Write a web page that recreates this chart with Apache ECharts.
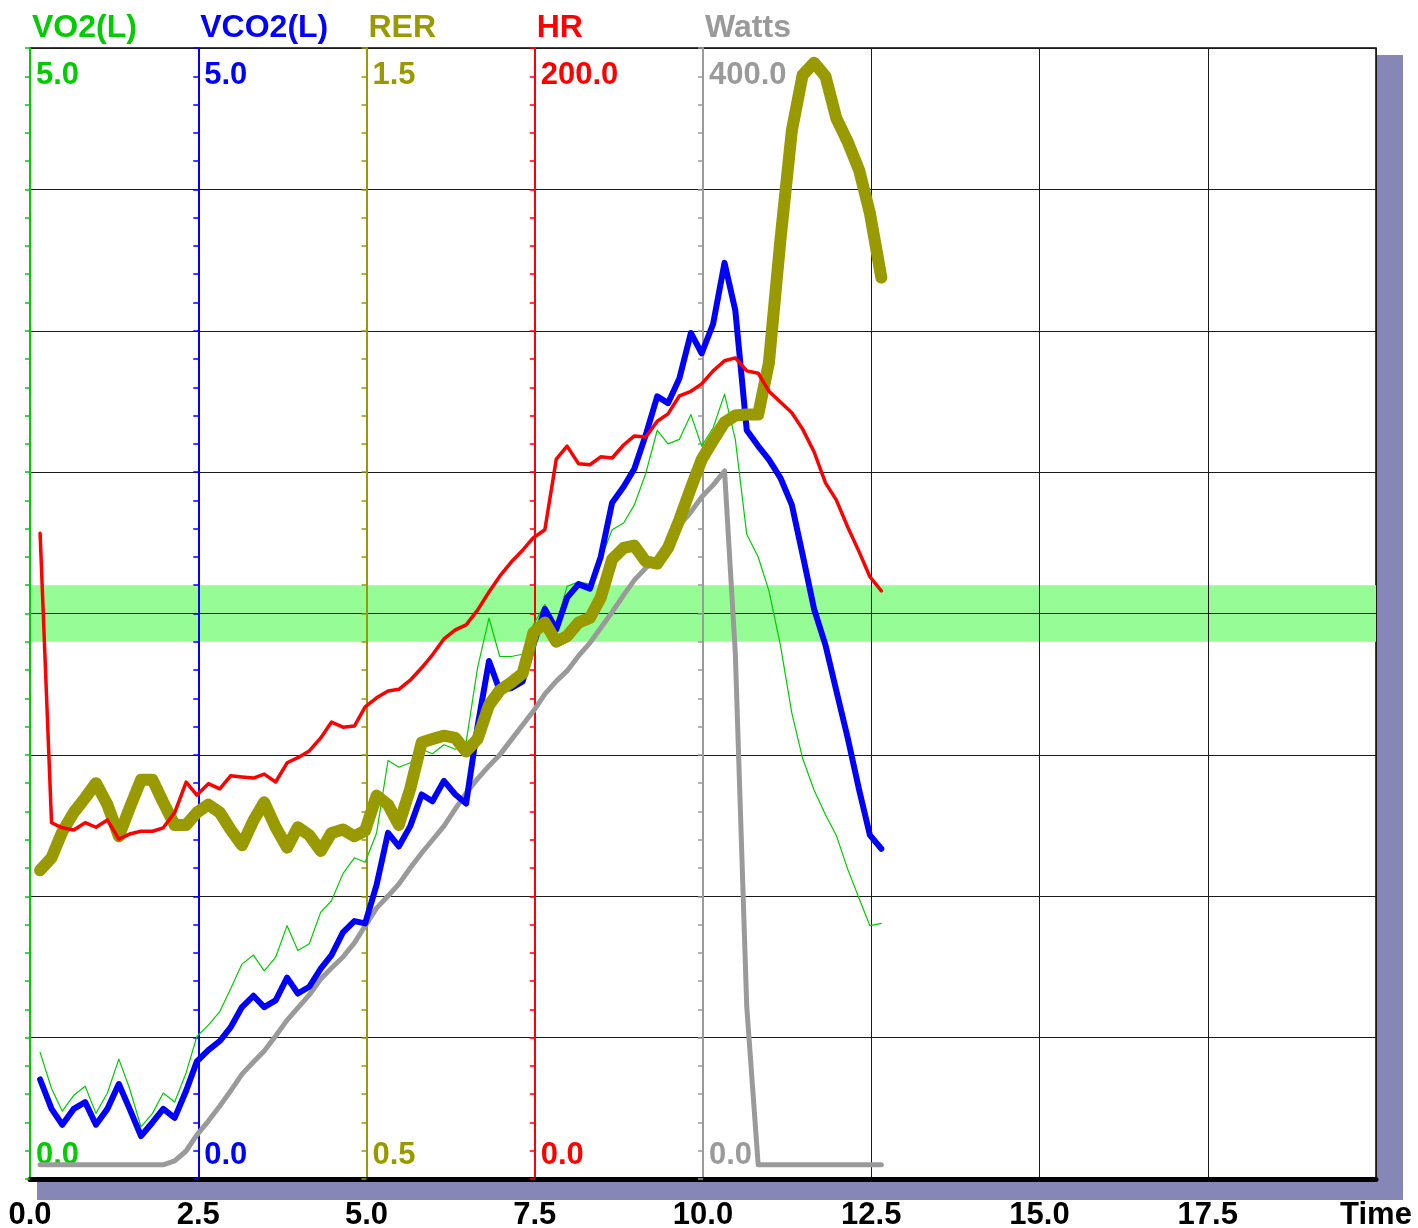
<!DOCTYPE html>
<html>
<head>
<meta charset="utf-8">
<script src="https://cdn.jsdelivr.net/npm/echarts/dist/echarts.min.js"></script>
<style>
html,body{margin:0;padding:0;background:#fff;overflow:hidden;}
#chart{width:1418px;height:1228px;}
</style>
</head>
<body>
<div id="chart"></div>
<script>
// ---- data (time in minutes) ----
const time = [0.15,0.32,0.48,0.65,0.82,0.98,1.15,1.32,1.48,1.65,1.82,1.98,2.15,2.32,2.48,2.65,2.82,2.98,3.15,3.32,
  3.48,3.65,3.82,3.98,4.15,4.32,4.48,4.65,4.82,4.98,5.15,5.32,5.48,5.65,5.82,5.98,6.15,6.32,6.48,6.65,
  6.82,6.98,7.15,7.32,7.48,7.65,7.82,7.98,8.15,8.32,8.48,8.65,8.82,8.98,9.15,9.32,9.48,9.65,9.82,9.98,
  10.15,10.32,10.48,10.65,10.82,10.98,11.15,11.32,11.48,11.65,11.82,11.98,12.15,12.32,12.48,12.65];
const vo2 = [0.56,0.40,0.30,0.37,0.41,0.29,0.38,0.53,0.40,0.23,0.29,0.38,0.34,0.47,0.63,0.68,0.74,0.84,0.95,0.99,
  0.92,0.98,1.12,1.01,1.04,1.18,1.23,1.35,1.42,1.40,1.53,1.85,1.82,1.84,1.90,1.88,1.92,1.90,1.93,2.26,
  2.48,2.31,2.31,2.32,2.45,2.54,2.45,2.62,2.64,2.63,2.74,2.87,2.90,2.98,3.12,3.31,3.25,3.27,3.38,3.24,
  3.32,3.47,3.27,2.85,2.75,2.60,2.36,2.06,1.86,1.72,1.61,1.52,1.37,1.24,1.12,1.13];
const vco2 = [0.44,0.31,0.24,0.31,0.34,0.24,0.31,0.42,0.31,0.19,0.25,0.31,0.27,0.39,0.52,0.57,0.61,0.67,0.76,0.81,
  0.76,0.79,0.89,0.82,0.85,0.93,0.99,1.09,1.14,1.13,1.30,1.53,1.47,1.56,1.70,1.67,1.76,1.70,1.66,2.00,
  2.29,2.16,2.17,2.20,2.36,2.52,2.43,2.57,2.63,2.61,2.75,2.99,3.06,3.14,3.29,3.46,3.43,3.54,3.74,3.65,
  3.78,4.05,3.84,3.31,3.24,3.18,3.10,2.98,2.76,2.52,2.36,2.16,1.95,1.72,1.52,1.46];
const rer = [0.773,0.784,0.807,0.824,0.837,0.850,0.831,0.803,0.828,0.853,0.853,0.833,0.813,0.813,0.824,0.831,0.824,0.809,0.795,0.817,
  0.833,0.811,0.793,0.811,0.804,0.790,0.806,0.809,0.803,0.808,0.839,0.831,0.813,0.845,0.886,0.889,0.892,0.890,0.878,0.889,
  0.919,0.932,0.939,0.947,0.983,0.992,0.975,0.980,0.992,0.996,1.014,1.048,1.058,1.060,1.046,1.044,1.058,1.083,1.111,1.136,
  1.153,1.169,1.175,1.176,1.176,1.222,1.330,1.427,1.476,1.487,1.475,1.438,1.417,1.392,1.354,1.297];
const hr = [114.2,63.0,62.1,61.7,63.0,62.2,63.5,60.1,61.0,61.5,61.5,62.1,64.8,70.2,67.9,69.9,69.0,71.3,71.1,70.9,
  71.6,70.2,73.6,74.5,75.7,78.0,80.8,79.9,80.1,83.5,85.1,86.3,86.6,88.2,90.4,92.7,95.5,97.1,98.0,100.6,
  103.8,106.6,109.1,111.2,113.4,114.8,127.3,129.6,126.5,126.3,127.7,127.5,129.8,131.4,131.2,134.0,135.3,138.5,139.3,140.6,
  142.9,144.7,145.2,142.9,142.5,139.3,137.4,135.5,132.6,128.6,123.1,120.1,115.3,110.9,106.5,104.0];
const watts = [5,5,5,5,5,5,5,5,5,5,5,5,6.4,9.9,15.6,20.5,25.8,31.1,37.1,41.4,
  45.3,50.6,56.2,60.5,65.1,70.7,74.6,78.5,83.5,89.5,95.8,100.1,104.3,110.0,115.3,119.9,124.8,130.9,136.5,141.5,
  146.1,150.0,155.3,160.6,165.5,171.5,176.1,179.7,185.0,189.6,194.9,200.5,206.5,211.8,216.1,219.6,225.3,231.3,235.9,241.2,
  245.4,250.4,186,61,5,5,5,5,5,5,5,5,5,5,5,5];
const rerBand = [0.975, 1.025];

// axis definitions: name, min, max
const axisNames = ['VO2(L)', 'VCO2(L)', 'RER', 'HR', 'Watts'];
const axisMin = [0, 0, 0.5, 0, 0];
const axisMax = [5, 5, 1.5, 200, 400];
const timeTicks = [0, 20, 2.5]; // min, max, interval
const timeLastLabel = 'Time';

// ---- styles ----
const FONT = 'Arial, "Liberation Sans", sans-serif';
const colors = ['#00cc00', '#0000ff', '#999900', '#ff0000', '#9a9a9a'];
const lineWidths = [1.2, 6, 12, 3.5, 5];
const seriesZ = [4, 5, 6, 7, 3];
const AXIS_STEP = 168.25;

function near(a, b) { return Math.abs(a - b) < 1e-6; }

function makeYAxis(i) {
  const c = colors[i], min = axisMin[i], max = axisMax[i];
  const txt = {color: c, fontSize: 31, fontWeight: 'bold', fontFamily: FONT};
  return {
    type: 'value', position: 'left', offset: -AXIS_STEP * i,
    min: min, max: max, interval: (max - min) / 8,
    name: axisNames[i], nameLocation: 'end', nameGap: 20, nameMoveOverlap: false,
    nameTextStyle: {color: c, fontSize: 32, fontWeight: 'bold', fontFamily: FONT,
      align: 'left', verticalAlign: 'middle', padding: [0, 0, 0, 2]},
    axisLine: {show: true, onZero: false, lineStyle: {color: c, width: 2}},
    axisTick: {show: true, length: 5, lineStyle: {color: c, width: 1.5}},
    minorTick: {show: true, splitNumber: 5, length: 5, lineStyle: {color: c, width: 1.5}},
    splitLine: i === 0 ? {show: true, lineStyle: {color: '#1a1a1a', width: 1}} : {show: false},
    axisLabel: {
      inside: true, margin: 6, color: c, fontSize: 31, fontWeight: 'bold', fontFamily: FONT,
      lineHeight: 55, showMinLabel: true, showMaxLabel: true,
      rich: {
        v: Object.assign({lineHeight: 55}, txt),
        t: Object.assign({lineHeight: 55}, txt),
        g: Object.assign({lineHeight: 47}, txt)
      },
      formatter: function (v) {
        if (near(v, max)) return '{t| }\n{v|' + v.toFixed(1) + '}';
        if (near(v, min)) return '{v|' + v.toFixed(1) + '}\n{g| }';
        return '';
      }
    },
    z: 2
  };
}

const seriesData = [vo2, vco2, rer, hr, watts];
const series = [{
  type: 'line', xAxisIndex: 0, yAxisIndex: 2, data: [[time[0], rer[0]]],
  showSymbol: false, symbol: 'none', lineStyle: {width: 0, opacity: 0}, silent: true, z: 1,
  markArea: {silent: true, itemStyle: {color: '#96fc96', opacity: 1},
    data: [[{xAxis: timeTicks[0], yAxis: rerBand[0]}, {xAxis: timeTicks[1], yAxis: rerBand[1]}]]}
}];
[4, 0, 1, 2, 3].forEach(function (i) {
  series.push({
    type: 'line', name: axisNames[i], xAxisIndex: 0, yAxisIndex: i,
    data: time.map(function (t, k) { return [t, seriesData[i][k]]; }),
    showSymbol: false, symbol: 'none', silent: true, z: seriesZ[i],
    lineStyle: {color: colors[i], width: lineWidths[i], cap: 'round', join: 'round'}
  });
});

const chart = echarts.init(document.getElementById('chart'), null, {renderer: 'canvas'});
chart.setOption({
  animation: false,
  backgroundColor: '#ffffff',
  graphic: [{type: 'rect', shape: {x: 37, y: 55, width: 1366, height: 1145},
    style: {fill: '#8787b7'}, z: -10, silent: true}],
  grid: {left: 30, right: 42, top: 48, bottom: 49, show: true, backgroundColor: '#ffffff',
    borderColor: '#000', borderWidth: 1.5, containLabel: false, outerBoundsMode: 'none'},
  xAxis: [{
    type: 'value', position: 'bottom', min: timeTicks[0], max: timeTicks[1], interval: timeTicks[2],
    axisLine: {show: true, onZero: false, lineStyle: {color: '#000', width: 5, cap: 'round'}},
    axisTick: {show: false},
    splitLine: {show: true, lineStyle: {color: '#1a1a1a', width: 1}},
    axisLabel: {color: '#000', fontSize: 31, fontWeight: 'bold', fontFamily: FONT, margin: 21,
      showMinLabel: true, showMaxLabel: true,
      formatter: function (v) { return near(v, timeTicks[1]) ? timeLastLabel : v.toFixed(1); }},
    z: 2
  }],
  yAxis: [0, 1, 2, 3, 4].map(makeYAxis),
  series: series
});
</script>
</body>
</html>
